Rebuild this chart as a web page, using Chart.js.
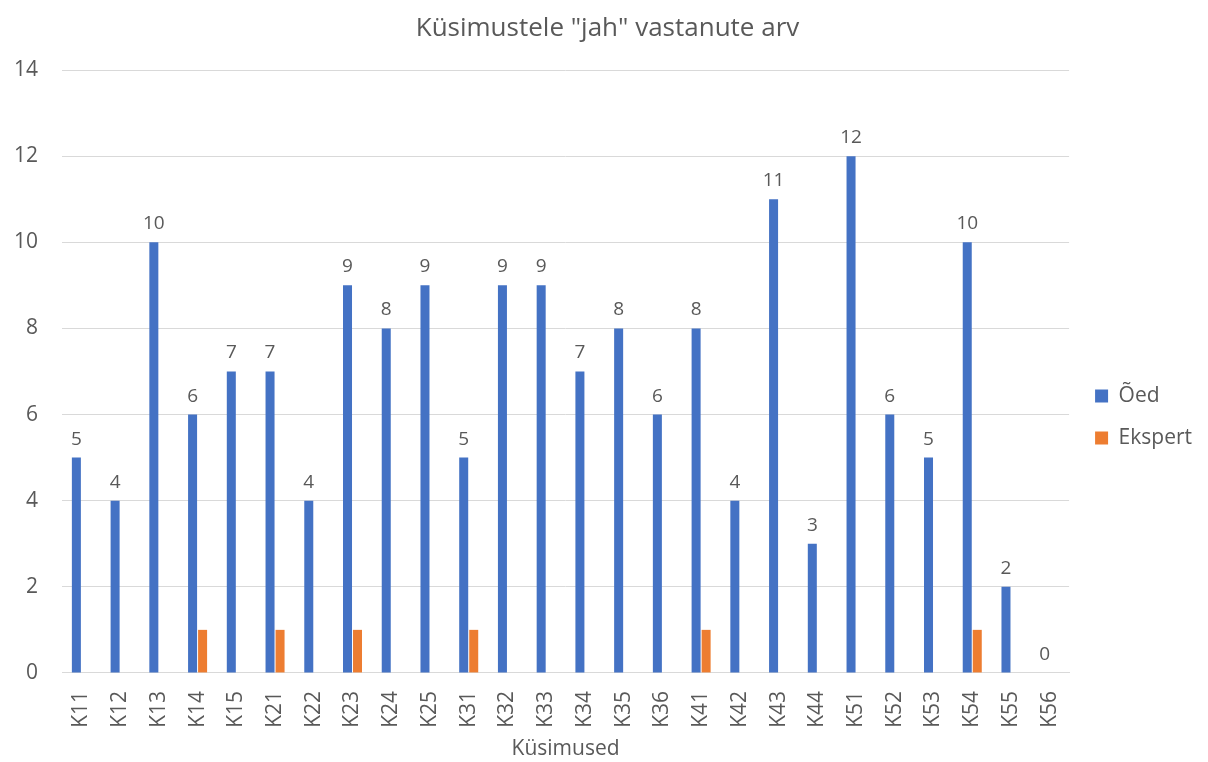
<!DOCTYPE html>
<html><head><meta charset="utf-8">
<script src="https://cdn.jsdelivr.net/npm/chart.js@4/dist/chart.umd.min.js"></script>
<style>html,body{margin:0;padding:0;background:#fff}#wrap{width:1208px;height:762px}</style>
</head><body><div id="wrap"><canvas id="c" width="1208" height="762"></canvas></div>
<script>
const categories = ["K11","K12","K13","K14","K15","K21","K22","K23","K24","K25","K31","K32","K33","K34","K35","K36","K41","K42","K43","K44","K51","K52","K53","K54","K55","K56"];
const oed = [5,4,10,6,7,7,4,9,8,9,5,9,9,7,8,6,8,4,11,3,12,6,5,10,2,0];
const ekspert = [0,0,0,1,0,1,0,1,0,0,1,0,0,0,0,0,1,0,0,0,0,0,0,1,0,0];
const yTicks = [0,2,4,6,8,10,12,14];

const FONT = "'Open Sans', 'Liberation Sans', sans-serif";
const GRAY = '#595959';

const labelPlugin = {
  id: 'barLabels',
  afterDatasetsDraw(chart) {
    const ctx = chart.ctx;
    const meta = chart.getDatasetMeta(0);
    ctx.save();
    ctx.font = "19px " + FONT;
    ctx.fillStyle = GRAY;
    ctx.textAlign = 'center';
    ctx.textBaseline = 'alphabetic';
    meta.data.forEach((bar, i) => {
      ctx.fillText(String(oed[i]), bar.x, bar.y - 13);
    });
    ctx.restore();
  }
};

const boxShift = {
  id: 'boxShift',
  afterLayout(chart) {
    const lg = chart.legend;
    if (lg) {
      lg.left += 5; lg.right += 5;
      lg.top += 36; lg.bottom += 36;
    }
    const tt = chart.titleBlock;
    if (tt) {
      tt.left += 14; tt.right += 14;
    }
  }
};

new Chart(document.getElementById('c'), {
  type: 'bar',
  data: {
    labels: categories,
    datasets: [
      {label: 'Õed', data: oed, backgroundColor: '#4472C4', barPercentage: 0.9, categoryPercentage: 0.517},
      {label: 'Ekspert', data: ekspert, backgroundColor: '#ED7D31', barPercentage: 0.9, categoryPercentage: 0.517}
    ]
  },
  options: {
    responsive: false,
    animation: false,
    layout: {padding: {left: -10, right: 11, top: 0, bottom: 0}},
    plugins: {
      title: {display: true, text: 'Küsimustele "jah" vastanute arv', color: GRAY, font: {family: FONT, size: 26, weight: 'normal'}, padding: {top: 13, bottom: 25.8}},
      legend: {position: 'right', labels: {color: GRAY, font: {family: FONT, size: 21}, boxWidth: 13, boxHeight: 13, padding: 21}},
      tooltip: {enabled: false}
    },
    scales: {
      x: {
        grid: {display: false, drawTicks: false},
        border: {color: '#D9D9D9', width: 1},
        ticks: {color: GRAY, font: {family: FONT, size: 21}, minRotation: 90, maxRotation: 90, padding: 18, autoSkip: false},
        title: {display: true, text: 'Küsimused', color: GRAY, font: {family: FONT, size: 21}, padding: {top: -9, bottom: 0}}
      },
      y: {
        min: 0, max: 14,
        afterBuildTicks(axis) { axis.ticks = yTicks.map(v => ({value: v})); },
        grid: {color: '#D9D9D9', drawTicks: false},
        border: {display: false},
        ticks: {color: GRAY, font: {family: FONT, size: 21}, padding: 24}
      }
    }
  },
  plugins: [labelPlugin, boxShift]
});
</script></body></html>
